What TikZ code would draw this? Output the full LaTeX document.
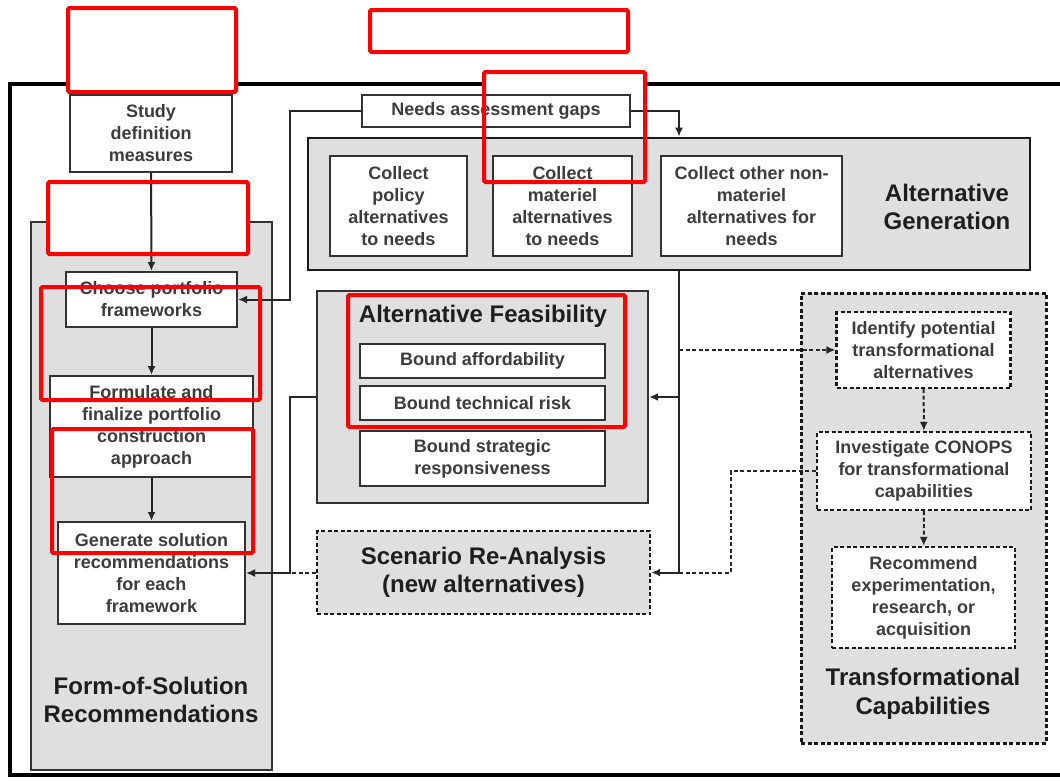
\documentclass[tikz,border=0pt]{standalone}
\usepackage{fontspec}
\setmainfont{Liberation Sans}
\usetikzlibrary{arrows.meta}

\definecolor{panelgray}{HTML}{DFDFDF}
\definecolor{boxline}{HTML}{333333}
\definecolor{boxtext}{HTML}{3C3C3C}
\definecolor{titletext}{HTML}{1E1E1E}

\begin{document}
\begin{tikzpicture}[x=1pt,y=-1pt]

\tikzset{stepbox/.style={draw=boxline, fill=white, line width=2pt, align=center, text=boxtext, inner sep=0pt, font=\fontsize{18}{22}\selectfont\bfseries}}
\tikzset{dashbox/.style={stepbox, draw=black!90, line width=2.2pt, dash pattern=on 4pt off 2.5pt}}
\tikzset{panel/.style={draw=boxline, fill=panelgray, line width=2.2pt}}
\tikzset{paneltitle/.style={align=center, text=titletext, inner sep=0pt, font=\fontsize{24}{28.5}\selectfont\bfseries}}
\tikzset{flow/.style={draw=black!85, line width=2pt}}
\tikzset{flowarrow/.style={flow, -{Latex[length=9pt,width=8pt]}}}
\tikzset{flowdash/.style={dash pattern=on 4pt off 2.5pt}}
\tikzset{redmark/.style={draw=red, line width=4pt, rounded corners=1.5pt}}

\useasboundingbox (0,0) rectangle (1060,780);

\draw[line width=3.5pt] (68,84) -| (10,775) -- (1060,775);
\draw[line width=3.5pt] (236,84) -- (484,84);
\draw[line width=3.5pt] (645,84) -- (1060,84);

\node[panel, minimum width=241pt, minimum height=548pt] (formpanel) at (151.5,496) {};
\node[panel, line width=2.8pt, draw=black!90, minimum width=722pt, minimum height=132pt] (altgen) at (669,204) {};
\node[panel, minimum width=331pt, minimum height=212pt] (feas) at (482.5,397) {};
\node[panel, flowdash, draw=black!90, line width=2.4pt, minimum width=333pt, minimum height=83pt, align=center, text=titletext, font=\fontsize{24}{28.5}\selectfont\bfseries] (scenario) at (483.5,572.5) {Scenario Re-Analysis\\(new alternatives)};
\node[panel, flowdash, draw=black!90, line width=3pt, minimum width=245pt, minimum height=450pt] (transpanel) at (923.5,518) {};

\node[stepbox, minimum width=162pt, minimum height=77pt] (study) at (151,133.5) {Study\\definition\\measures};
\node[stepbox, minimum width=171pt, minimum height=55pt] (choose) at (151.5,299.5) {Choose portfolio\\frameworks};
\node[stepbox, minimum width=203pt, minimum height=101pt] (formulate) at (151.5,426.5) {Formulate and\\finalize portfolio\\construction\\approach};
\node[stepbox, minimum width=187pt, minimum height=102pt] (generate) at (151.5,573) {Generate solution\\recommendations\\for each\\framework};
\node[paneltitle] (formtitle) at (151,700) {Form-of-Solution\\Recommendations};

\node[stepbox, minimum width=268pt, minimum height=32pt] (needs) at (496,111) {Needs assessment gaps};
\node[stepbox, minimum width=137pt, minimum height=100pt] (policy) at (398.5,206) {Collect\\policy\\alternatives\\to needs};
\node[stepbox, minimum width=139pt, minimum height=100pt] (materiel) at (562.5,206) {Collect\\materiel\\alternatives\\to needs};
\node[stepbox, minimum width=181pt, minimum height=100pt] (nonmateriel) at (751.5,206) {Collect other non-\\materiel\\alternatives for\\needs};
\node[paneltitle] (altgentitle) at (947,207) {Alternative\\Generation};

\node[paneltitle] (feastitle) at (483,316) {Alternative Feasibility};
\node[stepbox, minimum width=245pt, minimum height=34pt] (afford) at (482.5,361) {Bound affordability};
\node[stepbox, minimum width=245pt, minimum height=34pt] (techrisk) at (482.5,403) {Bound technical risk};
\node[stepbox, minimum width=245pt, minimum height=55pt] (strategic) at (482.5,458.5) {Bound strategic\\responsiveness};

\node[dashbox, minimum width=174pt, minimum height=76pt] (identify) at (923.5,350) {Identify potential\\transformational\\alternatives};
\node[dashbox, minimum width=214pt, minimum height=78pt] (investigate) at (924,471) {Investigate CONOPS\\for transformational\\capabilities};
\node[dashbox, minimum width=183pt, minimum height=101pt] (recommend) at (923.5,597.5) {Recommend\\experimentation,\\research, or\\acquisition};
\node[paneltitle] (transtitle) at (923,694) {Transformational\\Capabilities};

\coordinate (bus) at (679,270);
\coordinate (leftbus) at (290,397);

\fill[white] (48,182) rectangle (248,254);

\draw[flowarrow] (study) -- (choose);
\draw[flowarrow] (choose) -- (formulate);
\draw[flowarrow] (formulate) -- (generate);

\draw[flowarrow] (needs.west) -| (leftbus |- choose.east) -- (choose.east);
\draw[flowarrow] (needs.east) -| (bus |- altgen.north);

\draw[flow] (altgen.south -| bus) -- (bus |- scenario.east);
\draw[flowarrow] (bus |- feas.east) -- (feas.east);
\draw[flowarrow] (bus |- scenario.east) -- (scenario.east);
\draw[flowarrow, flowdash] (bus |- identify.west) -- (identify.west);
\draw[flow, flowdash] (investigate.west) -- ++(-85,0) |- (bus |- scenario.east);

\draw[flowarrow] (feas.west) -- (leftbus) |- (generate.east);
\draw[flow, flowdash] (scenario.west) -- (leftbus |- scenario.west);

\draw[flowarrow, flowdash] (identify) -- (investigate);
\draw[flowarrow, flowdash] (investigate) -- (recommend);

\draw[redmark] (68,8) rectangle (236,92);
\draw[redmark] (370,10) rectangle (628,52);
\draw[redmark] (484,72) rectangle (645,182);
\draw[redmark] (48,182) rectangle (248,254);
\draw[redmark] (41,287) rectangle (260,400);
\draw[redmark] (52,429) rectangle (253,553);
\draw[redmark] (348,295) rectangle (625,427);

\end{tikzpicture}
\end{document}
